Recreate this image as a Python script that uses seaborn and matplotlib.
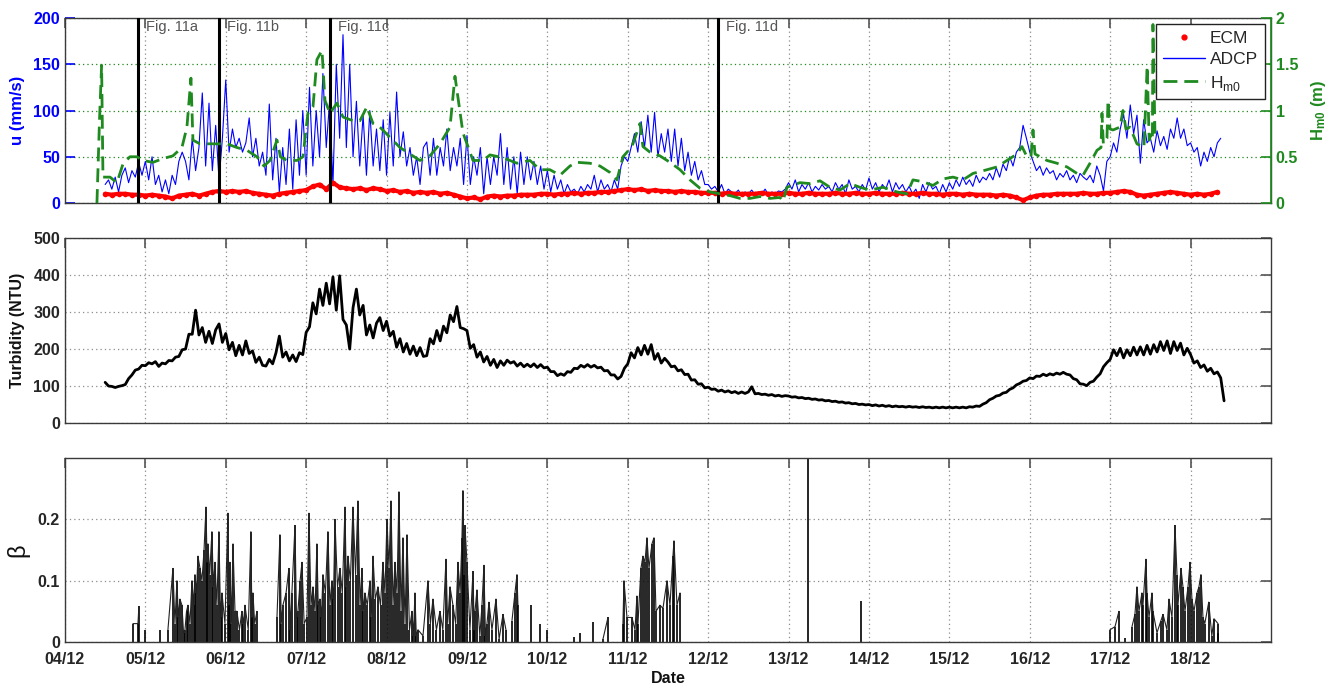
import numpy as np
import matplotlib
matplotlib.use("Agg")
import matplotlib.pyplot as plt
from matplotlib.lines import Line2D
import seaborn as sns

# ---------------------------------------------------------------- data
# time axis: day of December (04/12 .. 19/12)
hourly_start_day = 4.5          # first hourly sample (ADCP, turbidity)
ecm_start_day = 4.5             # first ECM sample
ecm_step_hours = 2

# ADCP current speed, mm/s, hourly from 04/12 12:00
adcp_u = [
    20, 25, 15, 28, 12, 30, 38, 22, 35, 28, 44, 30,
    45, 25, 50, 20, 30, 12, 25, 10, 30, 20, 45, 55,
    45, 25, 70, 35, 60, 119, 40, 108, 35, 84, 25, 70,
    133, 55, 80, 60, 70, 55, 65, 92, 50, 70, 40, 55,
    30, 107, 25, 70, 12, 60, 20, 80, 15, 90, 30, 100,
    30, 125, 40, 100, 50, 140, 60, 110, 20, 150, 70, 182,
    60, 150, 50, 110, 40, 95, 30, 100, 40, 80, 35, 90,
    30, 98, 40, 120, 50, 77, 40, 60, 30, 50, 20, 60,
    66, 30, 70, 30, 60, 40, 80, 35, 60, 40, 70, 20,
    73, 20, 50, 30, 60, 10, 50, 20, 50, 30, 75, 20,
    60, 15, 50, 10, 55, 20, 50, 25, 45, 20, 40, 15,
    35, 12, 30, 15, 25, 10, 20, 12, 15, 10, 18, 12,
    20, 15, 30, 12, 25, 15, 20, 12, 25, 15, 40, 50,
    45, 60, 75, 55, 88, 60, 95, 55, 98, 50, 75, 55,
    80, 45, 80, 40, 70, 35, 55, 30, 45, 25, 35, 20,
    20, 15, 18, 12, 20, 10, 15, 12, 10, 14, 8, 12,
    10, 14, 9, 12, 10, 15, 9, 12, 10, 13, 12, 15,
    22, 15, 25, 12, 20, 15, 22, 12, 18, 14, 20, 15,
    18, 12, 22, 15, 20, 10, 25, 15, 18, 12, 20, 14,
    27, 15, 22, 12, 20, 15, 25, 12, 22, 15, 20, 12,
    18, 10, 15, 5, 20, 12, 22, 15, 18, 10, 20, 12,
    22, 15, 25, 18, 28, 20, 25, 18, 30, 22, 28, 25,
    32, 25, 38, 28, 42, 35, 50, 40, 55, 60, 84, 70,
    55, 45, 35, 40, 30, 38, 32, 35, 25, 32, 28, 35,
    25, 30, 22, 32, 28, 25, 30, 22, 40, 30, 13, 45,
    50, 65, 55, 80, 96, 70, 106, 75, 95, 43, 90, 65,
    70, 55, 78, 62, 72, 58, 80, 70, 92, 70, 80, 62,
    65, 55, 60, 40, 55, 45, 60, 50, 65, 70,
]

# ECM current speed, mm/s, every 2 hours from 04/12 12:00
ecm_u = [
    10, 9, 10, 10, 9, 9, 8, 9, 8, 7, 5, 8,
    9, 10, 8, 10, 12, 13, 12, 13, 12, 13, 11, 10,
    9, 8, 10, 11, 12, 13, 14, 18, 20, 15, 22, 17,
    16, 15, 16, 14, 16, 15, 13, 14, 12, 13, 11, 12,
    11, 12, 10, 11, 9, 7, 5, 6, 4, 7, 8, 7,
    8, 8, 9, 9, 9, 10, 10, 9, 10, 10, 11, 10,
    11, 11, 12, 12, 13, 14, 15, 14, 15, 13, 14, 13,
    13, 12, 13, 12, 12, 11, 11, 11, 10, 11, 10, 10,
    10, 10, 11, 10, 10, 10, 11, 10, 10, 11, 10, 10,
    10, 11, 10, 10, 11, 10, 10, 11, 10, 10, 10, 11,
    10, 10, 11, 10, 10, 9, 10, 10, 9, 10, 9, 9,
    9, 8, 9, 8, 6, 3, 6, 8, 9, 9, 10, 10,
    10, 10, 11, 10, 10, 11, 11, 12, 13, 12, 9, 8,
    9, 10, 11, 12, 11, 10, 9, 10, 9, 10, 12,
]

# significant wave height Hm0 (m)
hm0_day = [
    4.398, 4.430, 4.456, 4.473, 4.560, 4.647, 4.721, 4.808, 4.896, 4.970,
    5.095, 5.219, 5.343, 5.455, 5.517, 5.567, 5.592, 5.679, 5.841, 6.015,
    6.139, 6.264, 6.388, 6.475, 6.550, 6.637, 6.680, 6.761, 6.886, 6.960,
    7.022, 7.085, 7.134, 7.197, 7.234, 7.296, 7.383, 7.458, 7.582, 7.669,
    7.756, 7.831, 7.918, 8.042, 8.167, 8.291, 8.415, 8.540, 8.664, 8.789,
    8.851, 8.950, 9.075, 9.199, 9.286, 9.448, 9.622, 9.784, 9.908, 10.032,
    10.157, 10.281, 10.368, 10.530, 10.654, 10.779, 10.866, 10.940, 11.052, 11.152,
    11.189, 11.276, 11.400, 11.525, 11.650, 11.774, 11.898, 12.022, 12.147, 12.271,
    12.396, 12.520, 12.644, 12.769, 12.893, 12.930, 12.980, 13.142, 13.266, 13.391,
    13.515, 13.639, 13.764, 13.888, 14.012, 14.174, 14.348, 14.473, 14.547, 14.672,
    14.796, 14.920, 15.045, 15.169, 15.294, 15.468, 15.592, 15.716, 15.841, 15.903,
    15.965, 16.015, 16.040, 16.065, 16.214, 16.338, 16.463, 16.587, 16.662, 16.749,
    16.836, 16.886, 16.898, 16.915, 16.960, 16.973, 16.998, 17.035, 17.122, 17.159,
    17.196, 17.246, 17.333, 17.420, 17.460, 17.485, 17.510, 17.525, 17.532, 17.557,
]
hm0_m = [
    0.00, 0.90, 1.49, 0.28, 0.28, 0.22, 0.42, 0.50, 0.50, 0.46,
    0.44, 0.48, 0.51, 0.60, 0.82, 1.35, 0.68, 0.64, 0.64, 0.64,
    0.60, 0.57, 0.50, 0.40, 0.46, 0.68, 0.50, 0.46, 0.46, 0.50,
    0.97, 1.04, 1.55, 1.65, 1.11, 0.97, 1.08, 0.93, 0.89, 0.89,
    1.04, 0.86, 0.82, 0.71, 0.60, 0.53, 0.46, 0.51, 0.64, 0.82,
    1.37, 0.76, 0.46, 0.46, 0.52, 0.49, 0.43, 0.46, 0.36, 0.36,
    0.30, 0.40, 0.44, 0.43, 0.40, 0.33, 0.25, 0.50, 0.61, 0.86,
    0.61, 0.55, 0.51, 0.44, 0.36, 0.25, 0.16, 0.12, 0.10, 0.08,
    0.05, 0.05, 0.07, 0.05, 0.06, 0.02, 0.17, 0.22, 0.21, 0.24,
    0.17, 0.14, 0.21, 0.17, 0.14, 0.17, 0.12, 0.10, 0.25, 0.23,
    0.19, 0.26, 0.28, 0.25, 0.32, 0.36, 0.39, 0.46, 0.53, 0.61,
    0.50, 0.50, 0.79, 0.53, 0.46, 0.43, 0.39, 0.32, 0.30, 0.43,
    0.57, 0.60, 0.97, 0.64, 0.70, 1.11, 0.80, 0.79, 0.82, 1.00,
    0.80, 0.82, 0.64, 0.60, 1.48, 0.68, 0.75, 0.70, 1.93, 0.75,
]

# turbidity (NTU), hourly from 04/12 12:00
turbidity = [
    110, 100, 99, 96, 99, 101, 104, 120, 130, 143, 146, 156,
    155, 163, 160, 166, 153, 162, 160, 169, 168, 178, 180, 198,
    200, 240, 240, 305, 238, 258, 218, 248, 215, 252, 268, 218,
    242, 198, 218, 182, 210, 184, 222, 188, 195, 164, 178, 156,
    154, 172, 160, 190, 235, 178, 192, 168, 184, 166, 190, 185,
    245, 260, 325, 295, 362, 318, 378, 322, 395, 305, 398, 280,
    265, 200, 312, 362, 292, 318, 238, 265, 230, 270, 285, 250,
    275, 235, 248, 205, 228, 192, 215, 186, 208, 182, 204, 180,
    182, 228, 214, 250, 222, 262, 244, 292, 274, 315, 258, 255,
    250, 202, 212, 178, 192, 165, 180, 156, 172, 150, 168, 156,
    170, 162, 166, 154, 162, 152, 159, 152, 160, 150, 158, 149,
    151, 139, 139, 128, 133, 129, 139, 137, 148, 147, 156, 151,
    158, 151, 156, 149, 151, 141, 142, 130, 130, 119, 126, 148,
    160, 190, 176, 204, 184, 210, 186, 212, 172, 188, 162, 175,
    165, 152, 154, 141, 144, 131, 132, 116, 117, 105, 106, 95,
    97, 91, 92, 86, 89, 84, 87, 82, 85, 80, 84, 80,
    84, 98, 79, 80, 77, 78, 75, 77, 73, 75, 72, 74,
    73, 70, 71, 68, 69, 66, 67, 64, 65, 62, 63, 60,
    61, 58, 59, 56, 57, 54, 55, 52, 53, 50, 51, 49,
    50, 47, 49, 46, 48, 45, 47, 44, 46, 44, 45, 43,
    45, 43, 44, 42, 44, 42, 43, 41, 43, 41, 43, 41,
    43, 41, 43, 41, 43, 41, 44, 43, 46, 45, 51, 55,
    63, 67, 73, 75, 81, 83, 91, 95, 103, 107, 113, 115,
    122, 120, 127, 126, 132, 128, 133, 130, 135, 132, 137, 132,
    130, 120, 117, 106, 105, 101, 110, 113, 124, 133, 152, 163,
    172, 198, 182, 202, 176, 198, 182, 205, 184, 206, 184, 210,
    186, 212, 192, 220, 196, 222, 188, 220, 196, 216, 184, 202,
    185, 162, 168, 150, 157, 140, 148, 133, 138, 122, 60,
]

# beta events (day of December, value)
beta_day = [
    4.846, 4.908, 4.920, 4.995, 5.182, 5.281, 5.343, 5.368, 5.393, 5.410,
    5.430, 5.455, 5.475, 5.493, 5.512, 5.530, 5.555, 5.580, 5.600, 5.617,
    5.636, 5.654, 5.680, 5.704, 5.730, 5.754, 5.768, 5.779, 5.800, 5.828,
    5.846, 5.866, 5.890, 5.915, 5.935, 5.953, 5.990, 6.027, 6.040, 6.052,
    6.070, 6.090, 6.115, 6.139, 6.170, 6.201, 6.220, 6.239, 6.280, 6.313,
    6.325, 6.338, 6.360, 6.388, 6.637, 6.674, 6.690, 6.711, 6.750, 6.786,
    6.805, 6.823, 6.861, 6.880, 6.898, 6.925, 6.948, 6.975, 7.010, 7.035,
    7.060, 7.085, 7.110, 7.134, 7.150, 7.172, 7.190, 7.209, 7.240, 7.271,
    7.295, 7.321, 7.340, 7.358, 7.390, 7.420, 7.450, 7.483, 7.500, 7.520,
    7.550, 7.582, 7.615, 7.644, 7.670, 7.694, 7.710, 7.731, 7.760, 7.794,
    7.810, 7.831, 7.860, 7.893, 7.925, 7.955, 7.980, 8.005, 8.030, 8.055,
    8.080, 8.104, 8.130, 8.154, 8.180, 8.204, 8.230, 8.254, 8.285, 8.316,
    8.335, 8.353, 8.370, 8.391, 8.453, 8.515, 8.545, 8.577, 8.620, 8.664,
    8.700, 8.739, 8.760, 8.789, 8.826, 8.860, 8.888, 8.915, 8.938, 8.950,
    8.963, 8.975, 9.000, 9.037, 9.075, 9.090, 9.100, 9.124, 9.160, 9.187,
    9.211, 9.230, 9.249, 9.274, 9.311, 9.361, 9.400, 9.448, 9.485, 9.560,
    9.597, 9.622, 9.634, 9.796, 9.908, 9.995, 10.331, 10.405, 10.567, 10.692,
    10.754, 10.940, 10.953, 10.990, 11.052, 11.090, 11.114, 11.127, 11.164, 11.189,
    11.214, 11.239, 11.264, 11.301, 11.326, 11.351, 11.400, 11.438, 11.488, 11.525,
    11.562, 11.575, 11.612, 11.650, 13.241, 13.900, 16.998, 17.060, 17.109, 17.184,
    17.271, 17.308, 17.333, 17.358, 17.395, 17.408, 17.445, 17.458, 17.483, 17.520,
    17.532, 17.582, 17.632, 17.657, 17.706, 17.731, 17.769, 17.806, 17.831, 17.843,
    17.881, 17.905, 17.930, 17.968, 17.993, 18.017, 18.042, 18.080, 18.104, 18.129,
    18.154, 18.177, 18.226, 18.264, 18.291, 18.341, 18.346,
]
beta = [
    0.030, 0.030, 0.058, 0.020, 0.020, 0.020, 0.120, 0.030, 0.100, 0.040,
    0.070, 0.060, 0.015, 0.020, 0.050, 0.060, 0.030, 0.100, 0.060, 0.110,
    0.080, 0.140, 0.120, 0.100, 0.150, 0.220, 0.130, 0.160, 0.110, 0.180,
    0.090, 0.130, 0.060, 0.180, 0.040, 0.080, 0.030, 0.210, 0.060, 0.130,
    0.030, 0.160, 0.050, 0.050, 0.020, 0.050, 0.030, 0.060, 0.020, 0.180,
    0.040, 0.080, 0.030, 0.050, 0.040, 0.175, 0.030, 0.060, 0.080, 0.120,
    0.020, 0.080, 0.190, 0.040, 0.050, 0.100, 0.130, 0.030, 0.040, 0.210,
    0.060, 0.090, 0.050, 0.160, 0.060, 0.070, 0.040, 0.110, 0.080, 0.180,
    0.060, 0.100, 0.070, 0.200, 0.090, 0.120, 0.080, 0.220, 0.090, 0.140,
    0.100, 0.220, 0.110, 0.230, 0.060, 0.120, 0.050, 0.080, 0.060, 0.100,
    0.040, 0.140, 0.070, 0.090, 0.060, 0.130, 0.080, 0.200, 0.120, 0.230,
    0.060, 0.130, 0.080, 0.245, 0.050, 0.170, 0.030, 0.175, 0.020, 0.050,
    0.010, 0.080, 0.010, 0.020, 0.010, 0.100, 0.030, 0.070, 0.020, 0.050,
    0.020, 0.135, 0.030, 0.090, 0.060, 0.030, 0.130, 0.080, 0.170, 0.247,
    0.110, 0.190, 0.130, 0.020, 0.115, 0.020, 0.050, 0.085, 0.010, 0.060,
    0.125, 0.010, 0.030, 0.065, 0.020, 0.070, 0.005, 0.045, 0.020, 0.035,
    0.080, 0.110, 0.060, 0.060, 0.030, 0.020, 0.008, 0.015, 0.033, 0.005,
    0.040, 0.030, 0.100, 0.040, 0.040, 0.020, 0.075, 0.030, 0.120, 0.140,
    0.130, 0.170, 0.120, 0.160, 0.170, 0.050, 0.060, 0.055, 0.100, 0.060,
    0.140, 0.165, 0.060, 0.080, 0.350, 0.067, 0.020, 0.025, 0.050, 0.007,
    0.025, 0.045, 0.090, 0.050, 0.080, 0.060, 0.135, 0.080, 0.040, 0.080,
    0.050, 0.015, 0.035, 0.045, 0.020, 0.070, 0.040, 0.190, 0.110, 0.060,
    0.120, 0.090, 0.050, 0.090, 0.130, 0.070, 0.050, 0.080, 0.090, 0.110,
    0.040, 0.030, 0.065, 0.010, 0.038, 0.030, 0.015,
]

# figure references marked on the velocity panel
fig_ref_day = [4.908, 5.915, 7.296, 12.122]
fig_ref_label = ["Fig. 11a", "Fig. 11b", "Fig. 11c", "Fig. 11d"]

# date axis
date_tick_day = list(range(4, 19))
date_tick_label = ["04/12", "05/12", "06/12", "07/12", "08/12", "09/12", "10/12",
                   "11/12", "12/12", "13/12", "14/12", "15/12", "16/12", "17/12",
                   "18/12"]

# ---------------------------------------------------------------- style
sns.set_theme(style="white")
plt.rcParams["font.family"] = ["Liberation Sans", "DejaVu Sans"]
plt.rcParams["mathtext.fontset"] = "custom"
plt.rcParams["mathtext.rm"] = "Liberation Sans"
plt.rcParams["mathtext.bf"] = "Liberation Sans:bold"

BLUE = "#0000ff"
RED = "#ff0000"
GREEN = "#1f8a1f"
SPINE = "#3a3a3a"
GRID = "#8c8c8c"
TICK_FS = 11.5

t_hourly = hourly_start_day + np.arange(len(adcp_u)) / 24.0
t_turb = hourly_start_day + np.arange(len(turbidity)) / 24.0
t_ecm = ecm_start_day + np.arange(len(ecm_u)) * ecm_step_hours / 24.0

fig = plt.figure(figsize=(13.39, 6.91), dpi=100)
ax1 = fig.add_axes([0.0485, 0.7062, 0.9007, 0.2677])
ax2 = fig.add_axes([0.0485, 0.3878, 0.9007, 0.2677])
ax3 = fig.add_axes([0.0485, 0.0709, 0.9007, 0.2663])


def style_axis(ax, grid_h_color=GRID):
    ax.set_xlim(4, 19)
    ax.set_xticks(date_tick_day)
    ax.set_axisbelow(True)
    ax.xaxis.grid(True, linestyle=(0, (1, 2.5)), color=GRID, lw=0.9)
    ax.yaxis.grid(True, linestyle=(0, (1, 2.5)), color=grid_h_color, lw=0.9)
    for s in ax.spines.values():
        s.set_color(SPINE)
        s.set_linewidth(1.0)
        s.set_visible(True)
    ax.tick_params(axis="both", direction="in", length=7, width=1.2,
                   color="#555555", top=True, labelsize=TICK_FS)
    ax.tick_params(axis="x", pad=7)
    for lab in ax.get_xticklabels() + ax.get_yticklabels():
        lab.set_fontweight("bold")


# ---------------------------------------------------------------- panel 1: velocities and wave height
sns.lineplot(x=t_hourly, y=adcp_u, ax=ax1, color=BLUE, lw=0.8, zorder=2)
sns.lineplot(x=t_ecm, y=ecm_u, ax=ax1, color=RED, lw=3.0, zorder=3)
sns.scatterplot(x=t_ecm, y=ecm_u, ax=ax1, color=RED, s=16, linewidth=0, zorder=3)
ax1.set_ylim(0, 200)
ax1.set_yticks([0, 50, 100, 150, 200])
style_axis(ax1, grid_h_color=GREEN)
ax1.tick_params(axis="y", colors=BLUE, right=False)
ax1.tick_params(axis="x", labelbottom=False)
for lab in ax1.get_yticklabels():
    lab.set_fontweight("bold")
ax1.set_ylabel("u (mm/s)", color=BLUE, fontsize=12, fontweight="bold", labelpad=6)

for d, txt in zip(fig_ref_day, fig_ref_label):
    ax1.axvline(d, color="black", lw=2.2, zorder=5)
    ax1.text(d + 0.1, 190, txt, color="#555555", fontsize=10.5,
             ha="left", va="center", zorder=6)

ax1b = ax1.twinx()
sns.lineplot(x=hm0_day, y=hm0_m, ax=ax1b, color=GREEN, lw=2.0, zorder=2)
ax1b.lines[-1].set_dashes([5, 2.5])
ax1b.set_xlim(4, 19)
ax1b.set_ylim(0, 2)
ax1b.set_yticks([0, 0.5, 1, 1.5, 2])
ax1b.set_yticklabels(["0", "0.5", "1", "1.5", "2"])
ax1b.tick_params(axis="y", direction="in", length=7, width=1.2, colors=GREEN,
                 labelsize=TICK_FS)
for lab in ax1b.get_yticklabels():
    lab.set_fontweight("bold")
ax1b.spines["right"].set_color(GREEN)
for side in ("left", "top", "bottom"):
    ax1b.spines[side].set_visible(False)
ax1b.set_ylabel(r"$\mathbf{H_{m0}}$ (m)", color=GREEN, fontsize=12,
                fontweight="bold", labelpad=8)

handles = [
    Line2D([], [], color=RED, marker=".", markersize=7, linestyle="none"),
    Line2D([], [], color=BLUE, lw=1.0),
    Line2D([], [], color=GREEN, lw=2.0, dashes=[5, 2.5]),
]
leg = ax1b.legend(handles, ["ECM", "ADCP", r"H$_{\mathrm{m0}}$"], loc="upper right",
                  fontsize=12.5, frameon=True, fancybox=False, framealpha=1,
                  edgecolor="#222222", handlelength=2.4, borderaxespad=0.35,
                  labelspacing=0.35, borderpad=0.4, handletextpad=0.3)
leg.get_frame().set_linewidth(1.0)
leg.set_zorder(10)

# ---------------------------------------------------------------- panel 2: turbidity
sns.lineplot(x=t_turb, y=turbidity, ax=ax2, color="black", lw=2.0)
ax2.set_ylim(0, 500)
ax2.set_yticks([0, 100, 200, 300, 400, 500])
style_axis(ax2)
ax2.tick_params(axis="y", right=True)
ax2.tick_params(axis="x", labelbottom=False)
ax2.set_ylabel("Turbidity (NTU)", fontsize=11.5, fontweight="bold", labelpad=6,
               color="#111111")

# ---------------------------------------------------------------- panel 3: beta
bd = np.asarray(beta_day)
bv = np.asarray(beta)
ax3.vlines(bd, 0, bv, color="black", lw=1.2, zorder=2)
# connect neighbouring events; bursts separated by long quiet spells stay apart
split = np.where(np.diff(bd) > 0.07)[0] + 1
for seg_d, seg_v in zip(np.split(bd, split), np.split(bv, split)):
    if len(seg_d) > 1:
        sns.lineplot(x=seg_d, y=seg_v, ax=ax3, color="#222222", lw=0.8,
                     sort=False, estimator=None, zorder=2)
ax3.set_ylim(0, 0.3)
ax3.set_yticks([0, 0.1, 0.2])
ax3.set_yticklabels(["0", "0.1", "0.2"])
style_axis(ax3)
ax3.tick_params(axis="y", right=True)
ax3.set_xticklabels(date_tick_label)
for lab in ax3.get_xticklabels():
    lab.set_fontweight("bold")
ax3.set_ylabel("β", fontsize=17, labelpad=6, color="#111111")
ax3.set_xlabel("Date", fontsize=11.5, fontweight="bold", labelpad=3, color="#111111")

fig.savefig("out.png", dpi=100, facecolor="white")
